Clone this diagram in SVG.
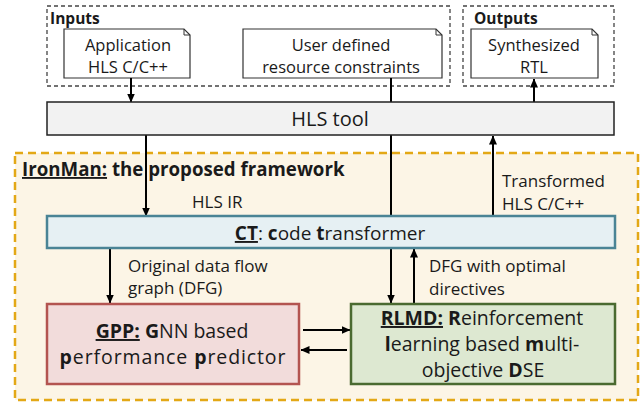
<svg xmlns="http://www.w3.org/2000/svg" width="644" height="403" viewBox="0 0 644 403">
<defs>
<marker id="ah" markerWidth="9" markerHeight="8" refX="8.5" refY="4" orient="auto" markerUnits="userSpaceOnUse">
<path d="M0,0 L9,4 L0,8 z" fill="#000"/>
</marker>
<style>
text{font-family:"Open Sans","Noto Sans","DejaVu Sans",sans-serif;fill:#1a1a1a;}
.t{font-size:16.5px;}
.m{font-size:17px;}
.big{font-size:19.5px;}
.b{font-weight:bold;}
.u{text-decoration:underline;}
.dash{fill:none;stroke:#444;stroke-width:1.3;stroke-dasharray:4 3;}
.doc{fill:#fff;stroke:#333;stroke-width:1.2;}
.conn{stroke:#000;stroke-width:2;fill:none;}
</style>
</defs>
<rect x="0" y="0" width="644" height="403" fill="#fff"/>

<g id="framework">
<rect x="15" y="153" width="623" height="247" fill="#fcf5e6" stroke="#e3a816" stroke-width="2.5" stroke-dasharray="8 5"/>
<text x="22" y="176" class="b" font-size="18.7"><tspan class="u">IronMan:</tspan> the proposed framework</text>
</g>

<g id="inputs">
<rect x="47" y="6" width="403" height="80" class="dash"/>
<text x="50" y="24" class="b" font-size="15.5">Inputs</text>
</g>
<g id="outputs">
<rect x="463" y="6" width="151" height="80" class="dash"/>
<text x="474" y="24" class="b" font-size="15.5">Outputs</text>
</g>

<g id="app">
<path d="M64,29 H184 L190,35 V78 H64 Z" class="doc"/>
<path d="M184,29 V35 H190" fill="none" stroke="#333" stroke-width="1"/>
<text x="128" y="51" class="t" text-anchor="middle">Application</text>
<text x="128" y="73" class="t" text-anchor="middle">HLS C/C++</text>
</g>
<g id="constraints">
<path d="M243,29 H436 L442,35 V78 H243 Z" class="doc"/>
<path d="M436,29 V35 H442" fill="none" stroke="#333" stroke-width="1"/>
<text x="341" y="51" class="t" text-anchor="middle">User defined</text>
<text x="341" y="73" class="t" text-anchor="middle">resource constraints</text>
</g>
<g id="rtl">
<path d="M471,29 H592 L598,35 V78 H471 Z" class="doc"/>
<path d="M592,29 V35 H598" fill="none" stroke="#333" stroke-width="1"/>
<text x="534" y="51" class="t" text-anchor="middle">Synthesized</text>
<text x="534" y="73" class="t" text-anchor="middle">RTL</text>
</g>

<g id="connectors">
<line x1="131" y1="78" x2="131" y2="102" class="conn" marker-end="url(#ah)"/>
<line x1="391" y1="78" x2="391" y2="102" class="conn"/>
<line x1="534" y1="102" x2="534" y2="79" class="conn" marker-end="url(#ah)"/>
<line x1="146" y1="135" x2="146" y2="216" class="conn" marker-end="url(#ah)"/>
<line x1="391" y1="135" x2="391" y2="216" class="conn"/>
<line x1="493" y1="216" x2="493" y2="136" class="conn" marker-end="url(#ah)"/>
<line x1="110" y1="248" x2="110" y2="303" class="conn" marker-end="url(#ah)"/>
<line x1="391" y1="248" x2="391" y2="303" class="conn" marker-end="url(#ah)"/>
<line x1="414" y1="303" x2="414" y2="249" class="conn" marker-end="url(#ah)"/>
<line x1="303" y1="330" x2="350" y2="330" class="conn" marker-end="url(#ah)"/>
<line x1="347" y1="350" x2="301" y2="350" class="conn" marker-end="url(#ah)"/>
<text x="192" y="208" class="m" font-size="16.5">HLS IR</text>
<text x="502" y="187" class="m">Transformed</text>
<text x="502" y="210" class="m">HLS C/C++</text>
<text x="128" y="272" class="m">Original data flow</text>
<text x="128" y="294" class="m">graph (DFG)</text>
<text x="429" y="272" class="m">DFG with optimal</text>
<text x="429" y="295" class="m">directives</text>
</g>

<g id="hls">
<rect x="47" y="102" width="567" height="33" fill="#f2f2f2" stroke="#222" stroke-width="1.5"/>
<text x="330" y="126" font-size="20" text-anchor="middle">HLS tool</text>
</g>

<g id="ct">
<rect x="47" y="216" width="568" height="32" fill="#e6f0f3" stroke="#4a8495" stroke-width="2.5"/>
<text x="330" y="240" font-size="19" text-anchor="middle"><tspan class="b u">CT</tspan>: <tspan class="b">c</tspan>ode <tspan class="b">t</tspan>ransformer</text>
</g>

<g id="gpp">
<rect x="47" y="304" width="252" height="80" fill="#f2dcdb" stroke="#b35450" stroke-width="2.5"/>
<text x="172" y="338" class="big" text-anchor="middle"><tspan class="b u">GPP:</tspan> <tspan class="b">G</tspan>NN based</text>
<text x="173" y="364" class="big" text-anchor="middle" letter-spacing="0.9"><tspan class="b">p</tspan>erformance <tspan class="b">p</tspan>redictor</text>
</g>

<g id="rlmd">
<rect x="351" y="304" width="264" height="80" fill="#dde8d1" stroke="#4a6a30" stroke-width="2.5"/>
<text x="482" y="325" class="big" text-anchor="middle"><tspan class="b u">RLMD:</tspan> <tspan class="b">R</tspan>einforcement</text>
<text x="482" y="351" class="big" text-anchor="middle"><tspan class="b">l</tspan>earning based <tspan class="b">m</tspan>ulti-</text>
<text x="483" y="377" class="big" text-anchor="middle">objective <tspan class="b">D</tspan>SE</text>
</g>
</svg>
